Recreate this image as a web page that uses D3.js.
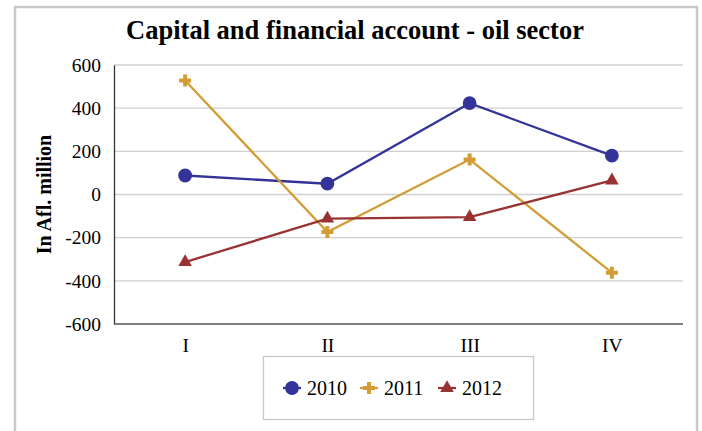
<!DOCTYPE html>
<html>
<head>
<meta charset="utf-8">
<script src="https://cdn.jsdelivr.net/npm/d3@7"></script>
<style>
  body { margin: 0; background: #fff; }
  svg { display: block; }
  svg text { font-family: "Liberation Serif", "Times New Roman", serif; fill: #000; }
</style>
</head>
<body>
<div id="chart"></div>
<script>
const quarters = ["I", "II", "III", "IV"];
const yTicks = [-600, -400, -200, 0, 200, 400, 600];
const values2010 = [88, 50, 423, 180];
const values2011 = [528, -174, 162, -362];
const values2012 = [-313, -112, -105, 65];

const series = [
  { name: "2010", values: values2010, color: "#333399", symbol: d3.symbolCircle, size: 150 },
  { name: "2011", values: values2011, color: "#D29C36", symbol: d3.symbolCross, size: 80 },
  { name: "2012", values: values2012, color: "#993333", symbol: d3.symbolTriangle, size: 80 }
];

const width = 702, height = 431;
const margin = { left: 114, right: 19, top: 65, bottom: 107 };

const svg = d3.select("#chart").append("svg").attr("width", width).attr("height", height);

// outer frame (bottom edge runs off the picture)
svg.append("path").attr("d", "M15,431V7H697V431").attr("fill", "none").attr("stroke", "#c8c8c8").attr("stroke-width", 2.5);

svg.append("text").attr("x", 355).attr("y", 39).attr("text-anchor", "middle")
  .attr("font-size", 26.5).attr("font-weight", "bold").text("Capital and financial account - oil sector");

const x = d3.scalePoint().domain(quarters).range([margin.left, width - margin.right]).padding(0.5);
const y = d3.scaleLinear().domain([-600, 600]).range([height - margin.bottom, margin.top]);

// gridlines
svg.append("g").selectAll("line").data(yTicks.filter((d) => d > -600)).join("line")
  .attr("x1", margin.left).attr("x2", width - margin.right)
  .attr("y1", (d) => y(d)).attr("y2", (d) => y(d))
  .attr("stroke", "#d0d0d0").attr("stroke-width", 1.3);

const yAxis = svg.append("g").attr("transform", `translate(${margin.left},0)`)
  .call(d3.axisLeft(y).tickValues(yTicks).tickFormat((d) => String(d)).tickSize(0).tickPadding(13));
yAxis.select(".domain").attr("stroke", "#333").attr("stroke-width", 1.3);
yAxis.selectAll("text").attr("font-size", 19.5);

const xAxis = svg.append("g").attr("transform", `translate(0,${y(-600)})`)
  .call(d3.axisBottom(x).tickSize(0).tickPadding(14));
xAxis.select(".domain").attr("stroke", "#555").attr("stroke-width", 1.3).attr("d", `M${margin.left},0H${width - margin.right}`);
xAxis.selectAll("text").attr("font-size", 19.5);

svg.append("text").attr("transform", `translate(51,${y(0)}) rotate(-90)`).attr("text-anchor", "middle")
  .attr("font-size", 20).attr("font-weight", "bold").text("In Afl. million");

const line = d3.line().x((d, i) => x(quarters[i])).y((d) => y(d));

for (const s of series) {
  svg.append("path").datum(s.values).attr("d", line).attr("fill", "none")
    .attr("stroke", s.color).attr("stroke-width", 2.3);
  svg.append("g").selectAll("path").data(s.values).join("path")
    .attr("d", d3.symbol(s.symbol, s.size))
    .attr("transform", (d, i) => `translate(${x(quarters[i])},${y(d)})`)
    .attr("fill", s.color);
}

// legend
const legend = svg.append("g");
legend.append("rect").attr("x", 263.5).attr("y", 356.5).attr("width", 270).attr("height", 63)
  .attr("fill", "#fff").attr("stroke", "#c8c8c8").attr("stroke-width", 1.3);
const legendX = [292, 369, 447];
series.forEach((s, i) => {
  legend.append("line").attr("x1", legendX[i] - 9).attr("x2", legendX[i] + 9).attr("y1", 388).attr("y2", 388)
    .attr("stroke", s.color).attr("stroke-width", 2.3);
  legend.append("path").attr("d", d3.symbol(s.symbol, s.size)).attr("transform", `translate(${legendX[i]},388)`).attr("fill", s.color);
  legend.append("text").attr("x", legendX[i] + 15).attr("y", 395).attr("font-size", 20).text(s.name);
});
</script>
</body>
</html>
